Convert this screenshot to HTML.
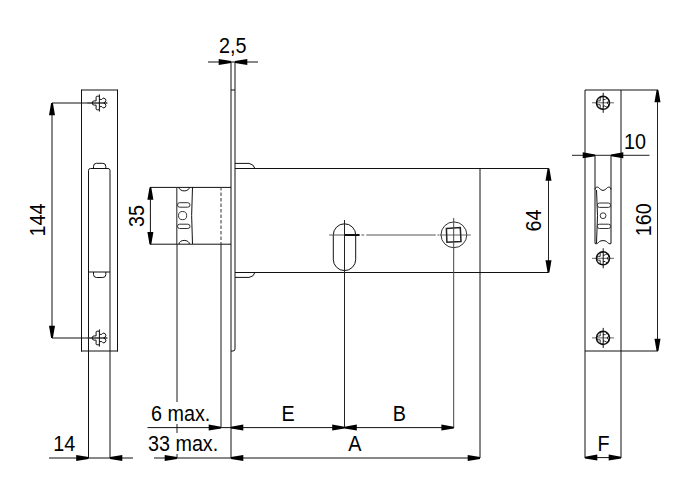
<!DOCTYPE html>
<html><head><meta charset="utf-8"><style>
html,body{margin:0;padding:0;background:#fff;}
svg{display:block;}
text{font-family:"Liberation Sans",sans-serif;fill:#000;}
</style></head><body>
<svg width="682" height="503" viewBox="0 0 682 503">
<rect width="682" height="503" fill="#fff"/>
<line x1="81.5" y1="90" x2="117.5" y2="90" stroke="#111" stroke-width="1.0" />
<line x1="81.5" y1="89.5" x2="81.5" y2="351.5" stroke="#111" stroke-width="1.0" />
<line x1="117.5" y1="89.5" x2="117.5" y2="351.5" stroke="#111" stroke-width="1.0" />
<line x1="81" y1="351" x2="118" y2="351" stroke="#111" stroke-width="1.0" />
<path d="M88.5,458 L88.5,170.5 Q88.5,168.5 90.5,168.5 L108,168.5 Q110,168.5 110,170.5 L110,458" stroke="#111" stroke-width="1.0" fill="none" />
<line x1="88.5" y1="272" x2="110" y2="272" stroke="#111" stroke-width="1.0" />
<path d="M93.5,168.5 L93.5,166.3 Q93.5,163.3 96.5,163.3 L102.8,163.3 Q105.8,163.3 105.8,166.3 L105.8,168.5" stroke="#111" stroke-width="1.0" fill="none" />
<path d="M93.5,272 L93.5,274.5 Q93.5,277.5 96.5,277.5 L102.8,277.5 Q105.8,277.5 105.8,274.5 L105.8,272" stroke="#111" stroke-width="1.0" fill="none" />
<line x1="87.4" y1="103" x2="107.9" y2="103" stroke="#777" stroke-width="1.0" />
<line x1="99.4" y1="94.4" x2="99.4" y2="111.6" stroke="#111" stroke-width="1.0" />
<path d="M99.4,96.2 L97.10000000000001,96.2 Q96.10000000000001,96.2 96.10000000000001,97.2 L96.10000000000001,100.9 L94.10000000000001,100.9 Q92.2,100.9 92.2,103 Q92.2,105.1 94.10000000000001,105.1 L96.10000000000001,105.1 L96.10000000000001,108.8 Q96.10000000000001,109.8 97.10000000000001,109.8 L99.4,109.8 M99.4,99.4 L101.80000000000001,99.4 Q102.80000000000001,97.9 103.9,98.1 Q106.0,98.6 105.9,100.6 Q105.60000000000001,102.1 103.80000000000001,103 Q105.60000000000001,103.9 105.9,105.4 Q106.0,107.4 103.9,107.9 Q102.80000000000001,108.1 101.80000000000001,106.6 L99.4,106.6" stroke="#111" stroke-width="1.0" fill="none" />
<line x1="87.4" y1="338" x2="107.9" y2="338" stroke="#777" stroke-width="1.0" />
<line x1="99.4" y1="329.4" x2="99.4" y2="346.6" stroke="#111" stroke-width="1.0" />
<path d="M99.4,331.2 L97.10000000000001,331.2 Q96.10000000000001,331.2 96.10000000000001,332.2 L96.10000000000001,335.9 L94.10000000000001,335.9 Q92.2,335.9 92.2,338 Q92.2,340.1 94.10000000000001,340.1 L96.10000000000001,340.1 L96.10000000000001,343.8 Q96.10000000000001,344.8 97.10000000000001,344.8 L99.4,344.8 M99.4,334.4 L101.80000000000001,334.4 Q102.80000000000001,332.9 103.9,333.1 Q106.0,333.6 105.9,335.6 Q105.60000000000001,337.1 103.80000000000001,338 Q105.60000000000001,338.9 105.9,340.4 Q106.0,342.4 103.9,342.9 Q102.80000000000001,343.1 101.80000000000001,341.6 L99.4,341.6" stroke="#111" stroke-width="1.0" fill="none" />
<line x1="52" y1="103" x2="107" y2="103" stroke="#111" stroke-width="1.0" />
<line x1="52" y1="338" x2="107" y2="338" stroke="#111" stroke-width="1.0" />
<line x1="52" y1="103" x2="52" y2="338" stroke="#111" stroke-width="1.0" />
<polygon points="51.10,103.00 52.90,103.00 55.00,115.30 49.00,115.30" fill="#000"/>
<polygon points="51.10,338.00 52.90,338.00 55.00,325.70 49.00,325.70" fill="#000"/>
<text transform="translate(45.0 220.1) rotate(-90) scale(0.915 1)" font-size="21.6" text-anchor="middle">144</text>
<line x1="49" y1="458" x2="133" y2="458" stroke="#111" stroke-width="1.0" />
<polygon points="88.50,457.10 88.50,458.90 76.20,461.00 76.20,455.00" fill="#000"/>
<polygon points="110.00,457.10 110.00,458.90 122.30,461.00 122.30,455.00" fill="#000"/>
<text transform="translate(64.3 451) scale(0.915 1)" font-size="21.6" text-anchor="middle">14</text>
<text transform="translate(232.8 52.8) scale(0.915 1)" font-size="21.6" text-anchor="middle">2,5</text>
<line x1="208" y1="62" x2="258" y2="62" stroke="#111" stroke-width="1.0" />
<polygon points="231.00,61.10 231.00,62.90 218.70,65.00 218.70,59.00" fill="#000"/>
<polygon points="235.00,61.10 235.00,62.90 247.30,65.00 247.30,59.00" fill="#000"/>
<line x1="231" y1="62" x2="231" y2="458" stroke="#111" stroke-width="1.0" />
<path d="M235,62 L235,349 Q235,351 233,351 L231,351" stroke="#111" stroke-width="1.0" fill="none" />
<line x1="231" y1="90" x2="235" y2="90" stroke="#111" stroke-width="1.0" />
<path d="M235,163.4 L249,163.4 Q253.5,164 255,168.5" stroke="#111" stroke-width="1.0" fill="none" />
<path d="M235,277.4 L249,277.4 Q253.5,276.9 255,272.5" stroke="#111" stroke-width="1.0" fill="none" />
<line x1="235" y1="168.5" x2="548.5" y2="168.5" stroke="#111" stroke-width="1.0" />
<line x1="235" y1="272.5" x2="548.5" y2="272.5" stroke="#111" stroke-width="1.0" />
<line x1="480" y1="168.5" x2="480" y2="458" stroke="#111" stroke-width="1.0" />
<line x1="150" y1="187.4" x2="231" y2="187.4" stroke="#111" stroke-width="1.0" />
<line x1="150" y1="244.2" x2="231" y2="244.2" stroke="#111" stroke-width="1.0" />
<line x1="177" y1="244" x2="177" y2="458" stroke="#1a1a1a" stroke-width="1.0" />
<line x1="176.8" y1="187" x2="176.8" y2="244" stroke="#333" stroke-width="1.1" />
<path d="M192.5,187 Q190.8,215.5 192.5,244" stroke="#111" stroke-width="1.0" fill="none" />
<path d="M179,187.3 A5.2,3.6 0 0 0 189.4,187.3" stroke="#111" stroke-width="1.0" fill="none" />
<path d="M179,244 A5.2,3.6 0 0 1 189.4,244" stroke="#111" stroke-width="1.0" fill="none" />
<rect x="177.5" y="202.7" width="12.5" height="4.5" rx="2.2" fill="none" stroke="#333" stroke-width="1"/>
<rect x="177.5" y="224.2" width="12.5" height="4.3" rx="2.1" fill="none" stroke="#333" stroke-width="1"/>
<circle cx="182.6" cy="215.6" r="4.1" fill="none" stroke="#333" stroke-width="1"/>
<line x1="221" y1="187" x2="221" y2="244" stroke="#333" stroke-width="1.0" stroke-dasharray="3.5,2"/>
<line x1="221" y1="244" x2="221" y2="428" stroke="#1a1a1a" stroke-width="1.0" />
<line x1="150.4" y1="187.4" x2="150.4" y2="244.2" stroke="#111" stroke-width="1.0" />
<polygon points="149.50,187.40 151.30,187.40 153.40,199.70 147.40,199.70" fill="#000"/>
<polygon points="149.50,244.20 151.30,244.20 153.40,231.90 147.40,231.90" fill="#000"/>
<text transform="translate(143.9 215.9) rotate(-90) scale(0.915 1)" font-size="21.6" text-anchor="middle">35</text>
<path d="M333.3,235 A11.2,11.2 0 0 1 355.7,235 L355.7,259.4 A11.2,11.2 0 0 1 333.3,259.4 Z" stroke="#111" stroke-width="1.0" fill="none" />
<line x1="344.5" y1="220" x2="344.5" y2="428" stroke="#222" stroke-width="1.0" />
<line x1="329.2" y1="235" x2="344.5" y2="235" stroke="#555" stroke-width="1.0" />
<line x1="344.5" y1="235" x2="359.6" y2="235" stroke="#111" stroke-width="2" />
<line x1="361.4" y1="235" x2="364.2" y2="235" stroke="#555" stroke-width="1.0" />
<line x1="366.3" y1="235" x2="435.8" y2="235" stroke="#555" stroke-width="1.0" />
<line x1="437.5" y1="235" x2="439.5" y2="235" stroke="#555" stroke-width="1.0" />
<line x1="440" y1="235" x2="470.8" y2="235" stroke="#666" stroke-width="1.0" />
<circle cx="453.9" cy="234.8" r="12.9" fill="none" stroke="#333" stroke-width="1"/>
<polygon points="446.4,228.4 460.3,227.6 461,241.6 446.9,242.3" fill="none" stroke="#222" stroke-width="1.5"/>
<line x1="453.7" y1="218" x2="453.7" y2="428" stroke="#444" stroke-width="1.0" />
<line x1="548.5" y1="168.5" x2="548.5" y2="272.5" stroke="#222" stroke-width="1.0" />
<polygon points="547.60,168.50 549.40,168.50 551.50,180.80 545.50,180.80" fill="#000"/>
<polygon points="547.60,272.50 549.40,272.50 551.50,260.20 545.50,260.20" fill="#000"/>
<text transform="translate(540.9 220.6) rotate(-90) scale(0.915 1)" font-size="21.6" text-anchor="middle">64</text>
<line x1="147.5" y1="427.6" x2="454" y2="427.6" stroke="#111" stroke-width="1.0" />
<polygon points="221.00,426.70 221.00,428.50 208.70,430.60 208.70,424.60" fill="#000"/>
<polygon points="231.00,426.70 231.00,428.50 243.30,430.60 243.30,424.60" fill="#000"/>
<polygon points="344.50,426.70 344.50,428.50 332.20,430.60 332.20,424.60" fill="#000"/>
<polygon points="344.50,426.70 344.50,428.50 356.80,430.60 356.80,424.60" fill="#000"/>
<polygon points="453.70,426.70 453.70,428.50 441.40,430.60 441.40,424.60" fill="#000"/>
<line x1="154" y1="458" x2="480" y2="458" stroke="#111" stroke-width="1.0" />
<polygon points="177.00,457.10 177.00,458.90 164.70,461.00 164.70,455.00" fill="#000"/>
<polygon points="231.00,457.10 231.00,458.90 243.30,461.00 243.30,455.00" fill="#000"/>
<polygon points="480.00,457.10 480.00,458.90 467.70,461.00 467.70,455.00" fill="#000"/>
<rect x="150" y="402" width="62" height="22" fill="#fff"/>
<text transform="translate(180.7 420.9) scale(0.915 1)" font-size="21.6" text-anchor="middle">6 max.</text>
<rect x="147" y="433" width="72" height="21" fill="#fff"/>
<text transform="translate(183.1 450.7) scale(0.915 1)" font-size="21.6" text-anchor="middle">33 max.</text>
<text transform="translate(288.1 420.8) scale(0.915 1)" font-size="21.6" text-anchor="middle">E</text>
<text transform="translate(399.3 420.8) scale(0.915 1)" font-size="21.6" text-anchor="middle">B</text>
<text transform="translate(354.9 451) scale(0.915 1)" font-size="21.6" text-anchor="middle">A</text>
<line x1="585" y1="90" x2="585" y2="458" stroke="#111" stroke-width="1.0" />
<line x1="621" y1="90" x2="621" y2="458" stroke="#111" stroke-width="1.0" />
<line x1="585" y1="90" x2="658" y2="90" stroke="#111" stroke-width="1.0" />
<line x1="585" y1="351" x2="658" y2="351" stroke="#111" stroke-width="1.0" />
<line x1="657.5" y1="90" x2="657.5" y2="351" stroke="#222" stroke-width="1.0" />
<polygon points="656.60,90.00 658.40,90.00 660.50,102.30 654.50,102.30" fill="#000"/>
<polygon points="656.60,351.00 658.40,351.00 660.50,338.70 654.50,338.70" fill="#000"/>
<text transform="translate(651.3 219.8) rotate(-90) scale(0.915 1)" font-size="21.6" text-anchor="middle">160</text>
<line x1="592" y1="102.8" x2="614" y2="102.8" stroke="#666" stroke-width="1.0" />
<line x1="603.2" y1="92.8" x2="603.2" y2="112.8" stroke="#111" stroke-width="1.0" />
<circle cx="603" cy="102.8" r="6.6" fill="none" stroke="#111" stroke-width="1.4"/>
<path d="M603,96.8 L601,96.8 Q600.2,97.2 600.2,98.0 L600.2,100.89999999999999 L598.4,100.89999999999999 Q596.6,100.89999999999999 596.6,102.8 Q596.6,104.7 598.4,104.7 L600.2,104.7 L600.2,107.6 Q600.2,108.39999999999999 601,108.8 L603,108.8 M603,99.6 L605.1,99.6 Q606,98.3 607,98.5 Q608.8,98.89999999999999 608.7,100.7 Q608.4,102.0 606.9,102.8 Q608.4,103.6 608.7,104.89999999999999 Q608.8,106.7 607,107.1 Q606,107.3 605.1,106.0 L603,106.0" stroke="#000" stroke-width="0.8" fill="none" />
<line x1="592" y1="258.3" x2="614" y2="258.3" stroke="#666" stroke-width="1.0" />
<line x1="603.2" y1="248.3" x2="603.2" y2="268.3" stroke="#111" stroke-width="1.0" />
<circle cx="603" cy="258.3" r="6.6" fill="none" stroke="#111" stroke-width="1.4"/>
<path d="M603,252.3 L601,252.3 Q600.2,252.70000000000002 600.2,253.5 L600.2,256.40000000000003 L598.4,256.40000000000003 Q596.6,256.40000000000003 596.6,258.3 Q596.6,260.2 598.4,260.2 L600.2,260.2 L600.2,263.1 Q600.2,263.90000000000003 601,264.3 L603,264.3 M603,255.10000000000002 L605.1,255.10000000000002 Q606,253.8 607,254.0 Q608.8,254.4 608.7,256.2 Q608.4,257.5 606.9,258.3 Q608.4,259.1 608.7,260.40000000000003 Q608.8,262.2 607,262.6 Q606,262.8 605.1,261.5 L603,261.5" stroke="#000" stroke-width="0.8" fill="none" />
<line x1="592" y1="337.9" x2="614" y2="337.9" stroke="#666" stroke-width="1.0" />
<line x1="603.2" y1="327.9" x2="603.2" y2="347.9" stroke="#111" stroke-width="1.0" />
<circle cx="603" cy="337.9" r="6.6" fill="none" stroke="#111" stroke-width="1.4"/>
<path d="M603,331.9 L601,331.9 Q600.2,332.29999999999995 600.2,333.09999999999997 L600.2,336.0 L598.4,336.0 Q596.6,336.0 596.6,337.9 Q596.6,339.79999999999995 598.4,339.79999999999995 L600.2,339.79999999999995 L600.2,342.7 Q600.2,343.5 601,343.9 L603,343.9 M603,334.7 L605.1,334.7 Q606,333.4 607,333.59999999999997 Q608.8,334.0 608.7,335.79999999999995 Q608.4,337.09999999999997 606.9,337.9 Q608.4,338.7 608.7,340.0 Q608.8,341.79999999999995 607,342.2 Q606,342.4 605.1,341.09999999999997 L603,341.09999999999997" stroke="#000" stroke-width="0.8" fill="none" />
<line x1="572" y1="155.3" x2="649.5" y2="155.3" stroke="#222" stroke-width="1.0" />
<polygon points="595.00,154.40 595.00,156.20 582.70,158.30 582.70,152.30" fill="#000"/>
<polygon points="611.00,154.40 611.00,156.20 623.30,158.30 623.30,152.30" fill="#000"/>
<text transform="translate(635 148.8) scale(0.915 1)" font-size="21.6" text-anchor="middle">10</text>
<path d="M595,155.3 L595,189.6 C595,187 597.3,186.6 598.6,187.6 C600,189 601.5,190.4 603,190.4 C604.5,190.4 606,189 607.4,187.6 C608.7,186.6 611,187 611,189.6 L611,155.3" stroke="#111" stroke-width="1.0" fill="none" />
<path d="M595,189.6 L595,243.5 C596.5,244.5 598,243 599.5,241.5 C601,240.3 605,240.3 606.5,241.5 C608,243 609.5,244.5 611,243.5 L611,189.6" stroke="#111" stroke-width="1.0" fill="none" />
<path d="M596.5,190 Q598.5,215 596.5,243" stroke="#111" stroke-width="1.0" fill="none" />
<rect x="597.3" y="203" width="13.3" height="4.4" rx="2.2" fill="none" stroke="#333" stroke-width="1"/>
<rect x="597.3" y="224.2" width="13.3" height="4.3" rx="2.1" fill="none" stroke="#333" stroke-width="1"/>
<circle cx="603.1" cy="215.7" r="2.9" fill="none" stroke="#333" stroke-width="1"/>
<line x1="585" y1="457.6" x2="621" y2="457.6" stroke="#111" stroke-width="1.0" />
<polygon points="585.00,456.70 585.00,458.50 597.30,460.60 597.30,454.60" fill="#000"/>
<polygon points="621.00,456.70 621.00,458.50 608.70,460.60 608.70,454.60" fill="#000"/>
<text transform="translate(603.5 450.6) scale(0.915 1)" font-size="21.6" text-anchor="middle">F</text>
</svg>
</body></html>
